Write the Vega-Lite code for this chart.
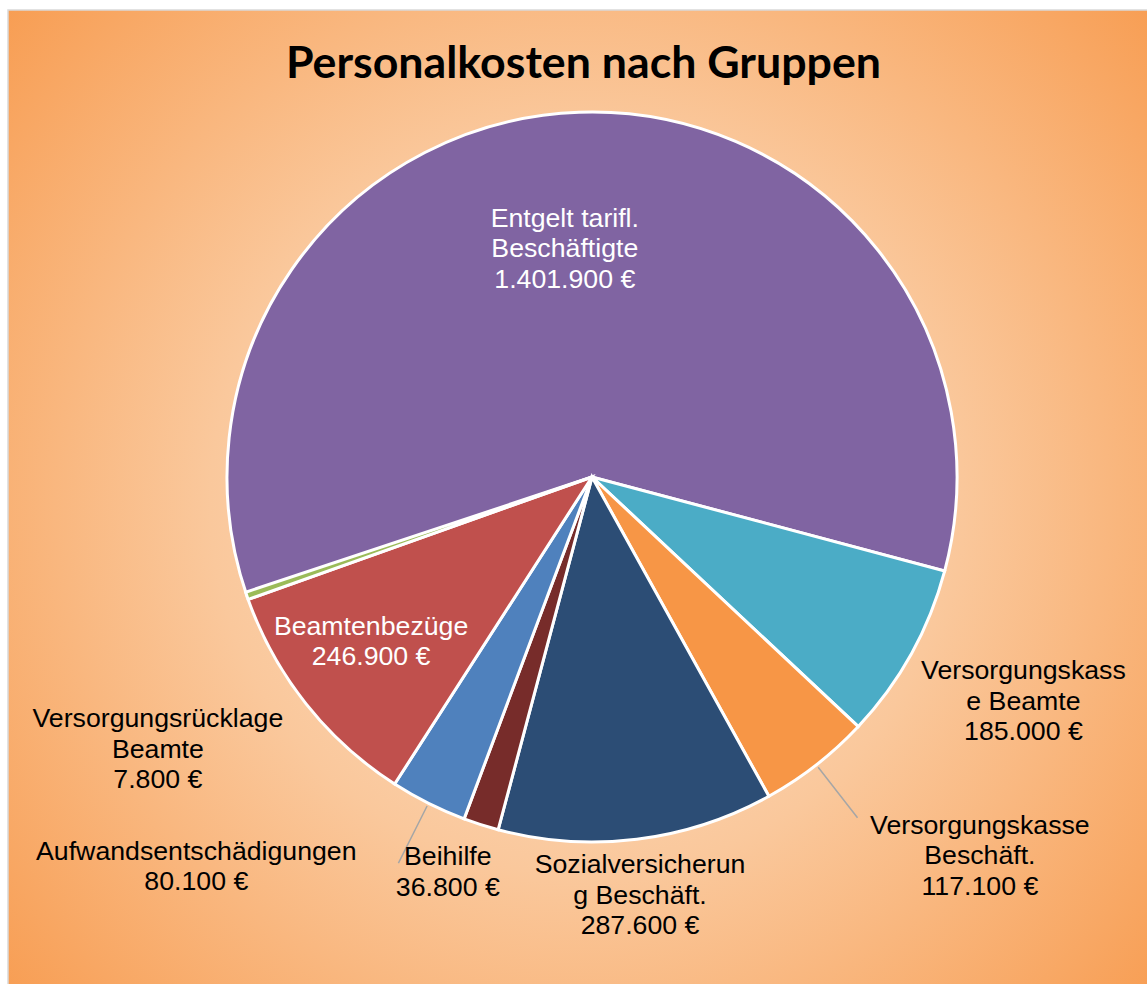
{
  "$schema": "https://vega.github.io/schema/vega-lite/v6.json",
  "width": 1147,
  "height": 984,
  "autosize": {"type": "fit", "contains": "padding"},
  "padding": {"left": 8, "top": 10, "right": -10, "bottom": -10},
  "background": "white",
  "view": {
    "fill": {"gradient": "radial", "x1": 0.5, "y1": 0.5, "r1": 0, "x2": 0.5, "y2": 0.5, "r2": 0.72,
      "stops": [{"offset": 0, "color": "#FCE3CC"}, {"offset": 0.45, "color": "#FAC89C"}, {"offset": 1, "color": "#F79646"}]},
    "stroke": "#D9D9D9",
    "strokeWidth": 1.5
  },
  "title": {
    "text": "Personalkosten nach Gruppen",
    "font": "Lato",
    "fontSize": 44.7,
    "fontWeight": "bold",
    "color": "#000000",
    "anchor": "middle",
    "orient": "top",
    "baseline": "alphabetic",
    "offset": -113,
    "dx": 1
  },
  "data": {
    "values": [
      {"gruppe": "Entgelt tarifl. Beschäftigte", "anzeige": "Entgelt tarifl.\nBeschäftigte", "kosten": 1401900},
      {"gruppe": "Versorgungskasse Beamte", "anzeige": "Versorgungskass\ne Beamte", "kosten": 185000},
      {"gruppe": "Versorgungskasse Beschäft.", "anzeige": "Versorgungskasse\nBeschäft.", "kosten": 117100},
      {"gruppe": "Sozialversicherung Beschäft.", "anzeige": "Sozialversicherun\ng Beschäft.", "kosten": 287600},
      {"gruppe": "Beihilfe", "anzeige": "Beihilfe", "kosten": 36800},
      {"gruppe": "Aufwandsentschädigungen", "anzeige": "Aufwandsentschädigungen", "kosten": 80100},
      {"gruppe": "Beamtenbezüge", "anzeige": "Beamtenbezüge", "kosten": 246900},
      {"gruppe": "Versorgungsrücklage Beamte", "anzeige": "Versorgungsrücklage\nBeamte", "kosten": 7800}
    ]
  },
  "transform": [
    {"window": [{"op": "sum", "field": "kosten", "as": "ende"}], "frame": [null, 0]},
    {"calculate": "datum.ende - datum.kosten", "as": "anfang"},
    {"calculate": "datum.ende - datum.kosten / 2", "as": "mitte"},
    {"calculate": "datum.anzeige + '\\n' + replace(format(datum.kosten, ',.0f'), /,/g, '.') + ' €'", "as": "label"}
  ],
  "layer": [
    {
      "mark": {"type": "arc", "radius": 365, "stroke": "white", "strokeWidth": 3,
        "x": {"expr": "width/2 + 9.5"}, "y": {"expr": "height/2 - 25"}},
      "encoding": {
        "theta": {"field": "anfang", "type": "quantitative", "scale": {"range": [4.3808, 10.664], "nice": false, "zero": true}},
        "theta2": {"field": "ende"},
        "color": {
          "field": "gruppe", "type": "nominal", "legend": null,
          "scale": {
            "domain": ["Entgelt tarifl. Beschäftigte", "Versorgungskasse Beamte", "Versorgungskasse Beschäft.", "Sozialversicherung Beschäft.", "Beihilfe", "Aufwandsentschädigungen", "Beamtenbezüge", "Versorgungsrücklage Beamte"],
            "range": ["#8064A2", "#4BACC6", "#F79646", "#2C4D75", "#772C2A", "#4F81BD", "#C0504D", "#9BBB59"]
          }
        }
      }
    },
    {
      "transform": [{"filter": "datum.gruppe === 'Versorgungskasse Beschäft.' || datum.gruppe === 'Aufwandsentschädigungen'"}],
      "mark": {"type": "arc", "radius": 432, "radius2": 368, "fillOpacity": 0, "stroke": "#A6A6A6", "strokeWidth": 1.5,
        "x": {"expr": "width/2 + 9.5"}, "y": {"expr": "height/2 - 25"}},
      "encoding": {
        "theta": {"field": "mitte", "type": "quantitative", "scale": {"range": [4.3808, 10.664], "nice": false, "zero": true}},
        "theta2": {"field": "mitte"}
      }
    },
    {
      "transform": [{"filter": "datum.gruppe === 'Entgelt tarifl. Beschäftigte'"}],
      "mark": {"type": "text", "radius": 230, "dx": -19, "dy": -28.5, "color": "white",
        "font": "Liberation Sans", "fontSize": 26.7, "lineBreak": "\n", "lineHeight": 30.5, "align": "center", "baseline": "middle",
        "x": {"expr": "width/2 + 9.5"}, "y": {"expr": "height/2 - 25"}},
      "encoding": {"theta": {"field": "mitte", "type": "quantitative"}, "text": {"field": "label"}}
    },
    {
      "transform": [{"filter": "datum.gruppe === 'Versorgungskasse Beamte'"}],
      "mark": {"type": "text", "radius": 490, "dx": 3, "dy": -43.5, "color": "black",
        "font": "Liberation Sans", "fontSize": 26.7, "lineBreak": "\n", "lineHeight": 30.5, "align": "center", "baseline": "middle",
        "x": {"expr": "width/2 + 9.5"}, "y": {"expr": "height/2 - 25"}},
      "encoding": {"theta": {"field": "mitte", "type": "quantitative"}, "text": {"field": "label"}}
    },
    {
      "transform": [{"filter": "datum.gruppe === 'Versorgungskasse Beschäft.'"}],
      "mark": {"type": "text", "radius": 540, "dx": 56, "dy": -77, "color": "black",
        "font": "Liberation Sans", "fontSize": 26.7, "lineBreak": "\n", "lineHeight": 30.5, "align": "center", "baseline": "middle",
        "x": {"expr": "width/2 + 9.5"}, "y": {"expr": "height/2 - 25"}},
      "encoding": {"theta": {"field": "mitte", "type": "quantitative"}, "text": {"field": "label"}}
    },
    {
      "transform": [{"filter": "datum.gruppe === 'Sozialversicherung Beschäft.'"}],
      "mark": {"type": "text", "radius": 420, "dx": -3.5, "dy": -28.5, "color": "black",
        "font": "Liberation Sans", "fontSize": 26.7, "lineBreak": "\n", "lineHeight": 30.5, "align": "center", "baseline": "middle",
        "x": {"expr": "width/2 + 9.5"}, "y": {"expr": "height/2 - 25"}},
      "encoding": {"theta": {"field": "mitte", "type": "quantitative"}, "text": {"field": "label"}}
    },
    {
      "transform": [{"filter": "datum.gruppe === 'Beihilfe'"}],
      "mark": {"type": "text", "radius": 415, "dx": -18, "dy": -15.25, "color": "black",
        "font": "Liberation Sans", "fontSize": 26.7, "lineBreak": "\n", "lineHeight": 30.5, "align": "center", "baseline": "middle",
        "x": {"expr": "width/2 + 9.5"}, "y": {"expr": "height/2 - 25"}},
      "encoding": {"theta": {"field": "mitte", "type": "quantitative"}, "text": {"field": "label"}}
    },
    {
      "transform": [{"filter": "datum.gruppe === 'Aufwandsentschädigungen'"}],
      "mark": {"type": "text", "radius": 420, "dx": -207.5, "dy": -0.5, "color": "black",
        "font": "Liberation Sans", "fontSize": 26.7, "lineBreak": "\n", "lineHeight": 30.5, "align": "center", "baseline": "middle",
        "x": {"expr": "width/2 + 9.5"}, "y": {"expr": "height/2 - 25"}},
      "encoding": {"theta": {"field": "mitte", "type": "quantitative"}, "text": {"field": "label"}}
    },
    {
      "transform": [{"filter": "datum.gruppe === 'Beamtenbezüge'"}],
      "mark": {"type": "text", "radius": 275, "dx": -5.5, "dy": -21.25, "color": "white",
        "font": "Liberation Sans", "fontSize": 26.7, "lineBreak": "\n", "lineHeight": 30.5, "align": "center", "baseline": "middle",
        "x": {"expr": "width/2 + 9.5"}, "y": {"expr": "height/2 - 25"}},
      "encoding": {"theta": {"field": "mitte", "type": "quantitative"}, "text": {"field": "label"}}
    },
    {
      "transform": [{"filter": "datum.gruppe === 'Versorgungsrücklage Beamte'"}],
      "mark": {"type": "text", "radius": 420, "dx": -37, "dy": 105.5, "color": "black",
        "font": "Liberation Sans", "fontSize": 26.7, "lineBreak": "\n", "lineHeight": 30.5, "align": "center", "baseline": "middle",
        "x": {"expr": "width/2 + 9.5"}, "y": {"expr": "height/2 - 25"}},
      "encoding": {"theta": {"field": "mitte", "type": "quantitative"}, "text": {"field": "label"}}
    }
  ]
}
